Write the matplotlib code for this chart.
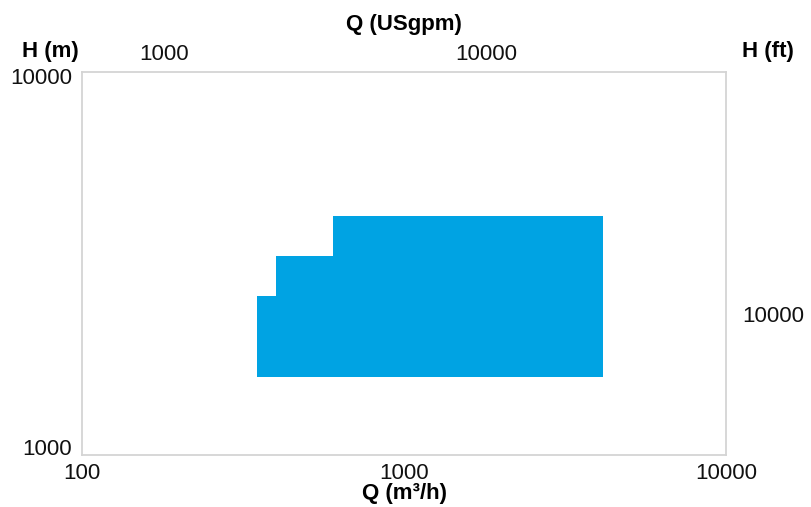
import matplotlib
matplotlib.use("Agg")
import matplotlib.pyplot as plt
import matplotlib.transforms as mtransforms
from matplotlib.ticker import FixedLocator, NullLocator, FixedFormatter

plt.rcParams["font.family"] = ["Liberation Sans", "DejaVu Sans"]

# operating range envelope (Q in m3/h, H in m)
q_pts = [350, 350, 400, 400, 600, 600, 4140, 4140]
h_pts = [1600, 2600, 2600, 3300, 3300, 4200, 4200, 1600]

x_ticks = [100, 1000, 10000]
y_ticks = [1000, 10000]
top_ticks = [1000, 10000]
right_ticks = [10000]

# label offsets as they appear on the chart
k_top = 5.56
k_right = 4.284

fig = plt.figure(figsize=(8.11, 5.07), dpi=100)
ax = fig.add_axes([82 / 811, 1 - 455 / 507, 644 / 811, 383 / 507])

ax.fill(q_pts, h_pts, color="#00a3e3", lw=0)

ax.set_xscale("log")
ax.set_yscale("log")
ax.set_xlim(100, 10000)
ax.set_ylim(1000, 10000)

ax.xaxis.set_major_locator(FixedLocator(x_ticks))
ax.xaxis.set_major_formatter(FixedFormatter([str(t) for t in x_ticks]))
ax.xaxis.set_minor_locator(NullLocator())
ax.yaxis.set_major_locator(FixedLocator(y_ticks))
ax.yaxis.set_major_formatter(FixedFormatter([str(t) for t in y_ticks]))
ax.yaxis.set_minor_locator(NullLocator())
ax.tick_params(length=0, labelsize=16, colors="#111111", pad=6)
ax.tick_params(axis="y", pad=7)

# left tick labels sit slightly inside the frame
shifts = [8, -4]
for lab, dy in zip(ax.get_yticklabels(), shifts):
    lab.set_transform(lab.get_transform()
                      + mtransforms.ScaledTranslation(0, dy / 100, fig.dpi_scale_trans))

for s in ax.spines.values():
    s.set_color("#d4d4d4")
    s.set_linewidth(1.3)

secx = ax.secondary_xaxis("top", functions=(lambda q: q * k_top, lambda g: g / k_top))
secx.xaxis.set_major_locator(FixedLocator(top_ticks))
secx.xaxis.set_major_formatter(FixedFormatter([str(t) for t in top_ticks]))
secx.xaxis.set_minor_locator(NullLocator())
secx.tick_params(length=0, labelsize=16, colors="#111111", pad=5)
secx.spines["top"].set_visible(False)

secy = ax.secondary_yaxis("right", functions=(lambda h: h * k_right, lambda f: f / k_right))
secy.yaxis.set_major_locator(FixedLocator(right_ticks))
secy.yaxis.set_major_formatter(FixedFormatter([str(t) for t in right_ticks]))
secy.yaxis.set_minor_locator(NullLocator())
secy.tick_params(length=0, labelsize=16, colors="#111111", pad=12)
secy.spines["right"].set_visible(False)

ax.set_xlabel("Q (m³/h)", fontsize=16, fontweight="bold")
ax.xaxis.set_label_coords(0.5, -39 / 383)
ax.xaxis.label.set_va("center")

secx.set_xlabel("Q (USgpm)", fontsize=16, fontweight="bold", labelpad=10)

fig.text(50 / 811, 1 - 52 / 507, "H (m)", fontsize=16, fontweight="bold",
         ha="center", va="center")
fig.text(768 / 811, 1 - 52 / 507, "H (ft)", fontsize=16, fontweight="bold",
         ha="center", va="center")

fig.savefig("out.png", dpi=100, facecolor="white")
